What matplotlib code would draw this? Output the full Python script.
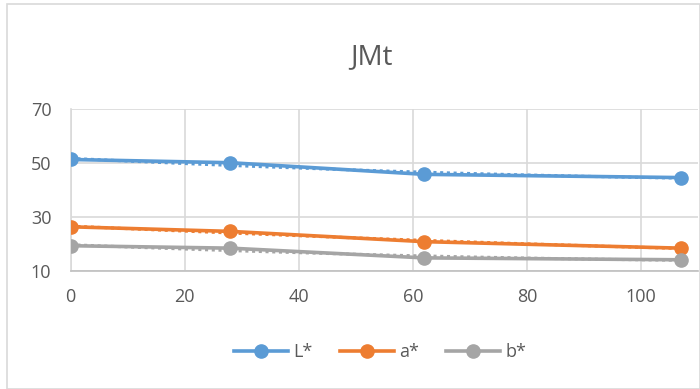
import numpy as np
import matplotlib
matplotlib.use("Agg")
import matplotlib.pyplot as plt
from matplotlib.patches import Rectangle

days = [0, 28, 62, 107]
L_star = [51.3, 50.1, 45.8, 44.6]
a_star = [26.4, 24.7, 20.9, 18.5]
b_star = [19.4, 18.5, 14.9, 14.2]

series = [("L*", L_star, "#5B9BD5"), ("a*", a_star, "#ED7D31"), ("b*", b_star, "#A5A5A5")]

plt.rcParams['font.family'] = ['Open Sans', 'DejaVu Sans']

fig = plt.figure(figsize=(7, 3.89), dpi=100)
ax = fig.add_axes([0.101, 0.303, 0.896, 0.417])

xs = np.linspace(min(days), max(days), 200)
for name, vals, col in series:
   # dotted trendline behind the data line
   coef = np.polyfit(days, vals, 2)
   ax.plot(xs, np.polyval(coef, xs), color=col, lw=2.2, ls=(0, (1, 1.2)), zorder=2)
   ax.plot(days, vals, color=col, lw=2.6, marker='o', markersize=9.5, label=name, zorder=3)

ax.set_xlim(0, 110)
ax.set_ylim(10, 70)
ax.set_xticks(range(0, 101, 20))
ax.set_yticks([10, 30, 50, 70])
ax.grid(True, color='#D9D9D9', lw=1.2)
ax.set_axisbelow(True)
for s in ['top', 'right']:
   ax.spines[s].set_visible(False)
ax.spines['left'].set_color('#D9D9D9')
ax.spines['bottom'].set_color('#BFBFBF')
ax.spines['left'].set_linewidth(1.2)
ax.spines['bottom'].set_linewidth(1.2)
ax.tick_params(length=0, labelsize=13, colors='#595959', pad=12)
ax.tick_params(axis='y', pad=14)
for lbl in ax.get_xticklabels() + ax.get_yticklabels():
   lbl.set_color('#595959')

fig.text(0.53, 0.852, "JMt", ha='center', va='center', fontsize=20, color='#595959')

leg = fig.legend(loc='center', bbox_to_anchor=(0.543, 0.095), ncol=3, frameon=False,
                 fontsize=13, handlelength=3.0, columnspacing=1.5, handletextpad=0.3)
for t in leg.get_texts():
   t.set_color('#595959')

fig.patches.append(Rectangle((0.01, 0.0), 0.99, 0.99, transform=fig.transFigure,
                             fill=False, edgecolor='#D9D9D9', lw=1.2))

fig.savefig("out.png", dpi=100)
